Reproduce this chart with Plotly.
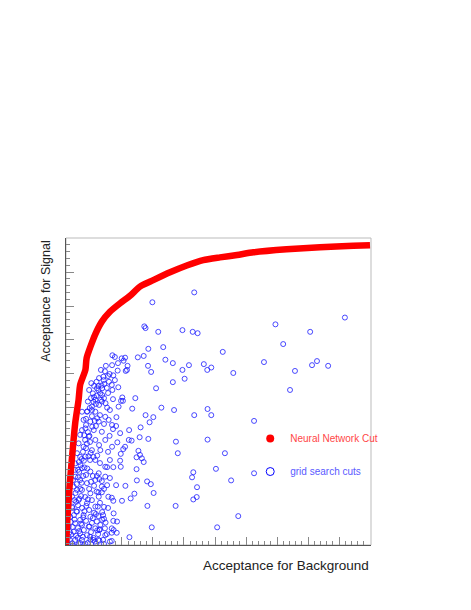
import plotly.graph_objects as go

# neural network cut: background acceptance vs signal acceptance
nn_bkg = [0.016, 0.019, 0.023, 0.030, 0.039, 0.049, 0.060, 0.065, 0.082, 0.086,
          0.113, 0.135, 0.161, 0.194, 0.226, 0.258, 0.301, 0.355, 0.409, 0.462,
          0.516, 0.571, 0.624, 0.731, 0.839, 0.946, 1.000]
nn_sig = [0.090, 0.097, 0.161, 0.259, 0.357, 0.455, 0.524, 0.568, 0.612, 0.647,
          0.715, 0.754, 0.783, 0.808, 0.830, 0.857, 0.876, 0.899, 0.919, 0.935,
          0.943, 0.950, 0.958, 0.967, 0.973, 0.977, 0.979]

# grid search cuts
grid_bkg = [
    0.433, 0.298, 0.272, 0.276, 0.317, 0.395, 0.428, 0.444, 0.285, 0.333,
    0.169, 0.199, 0.210, 0.205, 0.251, 0.270, 0.340, 0.364, 0.525, 0.464,
    0.488, 0.475, 0.416, 0.395, 0.284, 0.294, 0.218, 0.216, 0.212, 0.186,
    0.145, 0.559, 0.402, 0.364, 0.310, 0.188, 0.243, 0.201, 0.197, 0.327,
    0.233, 0.368, 0.476, 0.140, 0.118, 0.158, 0.143, 0.124, 0.167, 0.177,
    0.151, 0.136, 0.169, 0.136, 0.132, 0.147, 0.152, 0.433, 0.488, 0.276,
    0.301, 0.289, 0.260, 0.223, 0.182, 0.171, 0.160, 0.185, 0.231, 0.257,
    0.285, 0.374, 0.476, 0.210, 0.204, 0.196, 0.253, 0.258, 0.247, 0.264,
    0.270, 0.380, 0.532, 0.194, 0.196, 0.247, 0.172, 0.152, 0.503, 0.430,
    0.426, 0.552, 0.248, 0.281, 0.293, 0.211, 0.181, 0.152, 0.442, 0.127,
    0.302, 0.240, 0.441, 0.430, 0.135, 0.118, 0.156, 0.167, 0.200, 0.228,
    0.172, 0.282, 0.373, 0.142, 0.575, 0.124, 0.139, 0.142, 0.147, 0.172,
    0.296, 0.507, 0.127, 0.145, 0.151, 0.167, 0.183, 0.224, 0.127, 0.167,
    0.626, 0.626, 0.695, 0.919, 0.807, 0.720, 0.658, 0.758, 0.742, 0.813,
    0.829, 0.865, 0.167, 0.129, 0.107, 0.113, 0.124, 0.161, 0.095, 0.101,
    0.119, 0.106, 0.130, 0.090, 0.114, 0.135, 0.203, 0.189, 0.103, 0.087,
    0.071, 0.114, 0.146, 0.076, 0.098, 0.125, 0.157, 0.168, 0.082, 0.109,
    0.135, 0.065, 0.093, 0.114, 0.146, 0.222, 0.060, 0.076, 0.103, 0.130,
    0.168, 0.055, 0.082, 0.114, 0.146, 0.049, 0.071, 0.098, 0.125, 0.114,
    0.146, 0.135, 0.049, 0.065, 0.087, 0.044, 0.071, 0.098, 0.125, 0.039,
    0.060, 0.087, 0.114, 0.173, 0.119, 0.039, 0.055, 0.076, 0.098, 0.033,
    0.049, 0.071, 0.093, 0.114, 0.028, 0.044, 0.065, 0.087, 0.028, 0.049,
    0.071, 0.098, 0.023, 0.039, 0.060, 0.082, 0.146, 0.173, 0.184, 0.094,
    0.110, 0.126, 0.142, 0.155, 0.171, 0.161, 0.129, 0.103, 0.084, 0.116,
    0.142, 0.181, 0.194, 0.071, 0.097, 0.126, 0.155, 0.084, 0.065, 0.097,
    0.129, 0.161, 0.058, 0.084, 0.110, 0.161, 0.055, 0.081, 0.103, 0.129,
    0.155, 0.052, 0.071, 0.094, 0.116, 0.045, 0.065, 0.084, 0.103, 0.136,
    0.035, 0.058, 0.077, 0.100, 0.123, 0.032, 0.052, 0.074, 0.097, 0.139,
    0.032, 0.065, 0.090, 0.116, 0.142, 0.026, 0.045, 0.106, 0.068, 0.042,
    0.048, 0.061, 0.074, 0.081, 0.090, 0.103, 0.116, 0.100, 0.110, 0.126,
    0.155, 0.168, 0.187, 0.177, 0.132, 0.148, 0.036, 0.041, 0.047, 0.053,
    0.058, 0.062, 0.066, 0.070, 0.075, 0.079, 0.057, 0.062, 0.068, 0.075,
    0.079, 0.085, 0.090, 0.094, 0.100, 0.106, 0.040, 0.046, 0.050, 0.054,
    0.058, 0.062, 0.066, 0.070, 0.077, 0.088, 0.092, 0.099, 0.108, 0.120,
    0.087, 0.095, 0.104, 0.112, 0.120, 0.078, 0.084, 0.088, 0.096, 0.108,
    0.118, 0.124, 0.134, 0.141, 0.160, 0.172, 0.108, 0.120, 0.130, 0.110,
    0.122, 0.136, 0.124, 0.142, 0.135, 0.119,
]
grid_sig = [
    0.840, 0.811, 0.740, 0.735, 0.724, 0.729, 0.724, 0.720, 0.674, 0.679,
    0.655, 0.646, 0.648, 0.639, 0.649, 0.653, 0.642, 0.632, 0.665, 0.629,
    0.619, 0.612, 0.626, 0.612, 0.624, 0.606, 0.624, 0.612, 0.609, 0.610,
    0.608, 0.603, 0.586, 0.576, 0.558, 0.561, 0.529, 0.531, 0.521, 0.501,
    0.498, 0.494, 0.497, 0.592, 0.577, 0.577, 0.571, 0.565, 0.568, 0.582,
    0.559, 0.558, 0.553, 0.538, 0.524, 0.514, 0.501, 0.479, 0.479, 0.479,
    0.473, 0.458, 0.443, 0.435, 0.473, 0.438, 0.418, 0.399, 0.404, 0.414,
    0.409, 0.401, 0.407, 0.386, 0.379, 0.365, 0.374, 0.362, 0.355, 0.352,
    0.341, 0.367, 0.367, 0.345, 0.327, 0.320, 0.326, 0.326, 0.321, 0.311,
    0.296, 0.287, 0.287, 0.284, 0.276, 0.271, 0.273, 0.273, 0.267, 0.291,
    0.250, 0.248, 0.238, 0.231, 0.252, 0.254, 0.239, 0.236, 0.227, 0.234,
    0.227, 0.212, 0.212, 0.209, 0.182, 0.182, 0.185, 0.174, 0.163, 0.168,
    0.149, 0.149, 0.141, 0.146, 0.129, 0.133, 0.133, 0.120, 0.110, 0.109,
    0.462, 0.308, 0.746, 0.766, 0.724, 0.688, 0.635, 0.609, 0.553, 0.626,
    0.638, 0.624, 0.146, 0.143, 0.112, 0.107, 0.112, 0.107, 0.151, 0.573,
    0.558, 0.543, 0.543, 0.519, 0.524, 0.519, 0.521, 0.504, 0.504, 0.489,
    0.489, 0.489, 0.474, 0.465, 0.460, 0.460, 0.465, 0.450, 0.440, 0.435,
    0.430, 0.421, 0.416, 0.406, 0.406, 0.406, 0.396, 0.386, 0.376, 0.376,
    0.386, 0.367, 0.357, 0.347, 0.327, 0.337, 0.323, 0.313, 0.308, 0.288,
    0.298, 0.269, 0.298, 0.288, 0.279, 0.269, 0.259, 0.249, 0.239, 0.239,
    0.229, 0.220, 0.210, 0.190, 0.166, 0.210, 0.195, 0.185, 0.180, 0.180,
    0.161, 0.156, 0.151, 0.146, 0.151, 0.136, 0.131, 0.126, 0.121, 0.112,
    0.112, 0.112, 0.107, 0.102, 0.100, 0.100, 0.126, 0.141, 0.166, 0.553,
    0.532, 0.509, 0.529, 0.544, 0.526, 0.494, 0.479, 0.476, 0.450, 0.447,
    0.453, 0.447, 0.426, 0.435, 0.400, 0.391, 0.371, 0.382, 0.356, 0.347,
    0.338, 0.347, 0.318, 0.303, 0.271, 0.294, 0.259, 0.238, 0.229, 0.221,
    0.206, 0.224, 0.206, 0.200, 0.188, 0.185, 0.171, 0.168, 0.162, 0.171,
    0.165, 0.147, 0.141, 0.135, 0.129, 0.135, 0.124, 0.121, 0.121, 0.112,
    0.112, 0.103, 0.103, 0.100, 0.100, 0.097, 0.094, 0.176, 0.241, 0.288,
    0.318, 0.341, 0.371, 0.406, 0.429, 0.494, 0.512, 0.529, 0.565, 0.588,
    0.594, 0.626, 0.632, 0.650, 0.612, 0.624, 0.128, 0.150, 0.172, 0.196,
    0.214, 0.233, 0.262, 0.280, 0.300, 0.325, 0.118, 0.138, 0.160, 0.178,
    0.196, 0.212, 0.231, 0.262, 0.283, 0.300, 0.206, 0.229, 0.250, 0.276,
    0.296, 0.312, 0.332, 0.350, 0.345, 0.322, 0.358, 0.368, 0.356, 0.360,
    0.395, 0.418, 0.445, 0.462, 0.470, 0.420, 0.468, 0.490, 0.500, 0.518,
    0.536, 0.552, 0.566, 0.582, 0.600, 0.596, 0.118, 0.140, 0.156, 0.192,
    0.210, 0.194, 0.252, 0.262, 0.285, 0.300,
]

fig = go.Figure()
fig.add_scatter(x=grid_bkg, y=grid_sig, mode='markers', showlegend=False,
                marker=dict(symbol='circle-open', size=5, color='rgba(30,30,255,0.8)',
                            line=dict(width=1)))
fig.add_scatter(x=nn_bkg, y=nn_sig, mode='lines', showlegend=False,
                line=dict(color='red', width=6.5, shape='spline', smoothing=0.6))

# legend entries (marker only)
fig.add_scatter(x=[None], y=[None], mode='markers', legendgroup='nn',
                name='<span style="color:rgb(255,70,70)">Neural Network Cut</span>',
                marker=dict(symbol='circle', size=8, color='red'))
fig.add_scatter(x=[None], y=[None], mode='markers', legendgroup='grid',
                name='<span style="color:rgb(90,90,255)">grid search cuts</span>',
                marker=dict(symbol='circle-open', size=8, color='blue', line=dict(width=1)))

axis_common = dict(showgrid=False, zeroline=False, showticklabels=False,
                   ticks='inside', ticklen=8, tickcolor='#888', tick0=0, dtick=0.1,
                   minor=dict(ticks='inside', ticklen=4, tickcolor='#888', dtick=0.02),
                   showline=True, linecolor='#555', linewidth=1)

# page body adds 8px, so the figure is 8px smaller on each side
fig.update_layout(
    width=463, height=602,
    margin=dict(l=58, r=100, t=230, b=65),
    paper_bgcolor='white', plot_bgcolor='white',
    font=dict(family='Liberation Sans, Arial, sans-serif', color='#222'),
    legend=dict(x=0.604, y=0.394, xanchor='left', yanchor='top',
                bgcolor='rgba(0,0,0,0)', font=dict(size=10), tracegroupgap=14),
    xaxis=dict(range=[0.0194, 1.0032], **axis_common),
    yaxis=dict(range=[0.097, 1.0], **axis_common),
    shapes=[dict(type='rect', xref='paper', yref='paper', x0=0, x1=1, y0=0, y1=1,
                 line=dict(color='#bbb', width=1), layer='below')],
    annotations=[
        dict(text='Acceptance for Background', xref='paper', yref='paper',
             x=1, y=-0.068, xanchor='right', yanchor='middle', showarrow=False,
             font=dict(size=13.5, color='#222')),
        dict(text='Acceptance for Signal', xref='paper', yref='paper',
             x=-0.066, y=1, xanchor='center', yanchor='top', textangle=-90,
             showarrow=False, font=dict(size=12.5, color='#222')),
    ],
)

fig.write_html("out.html")
